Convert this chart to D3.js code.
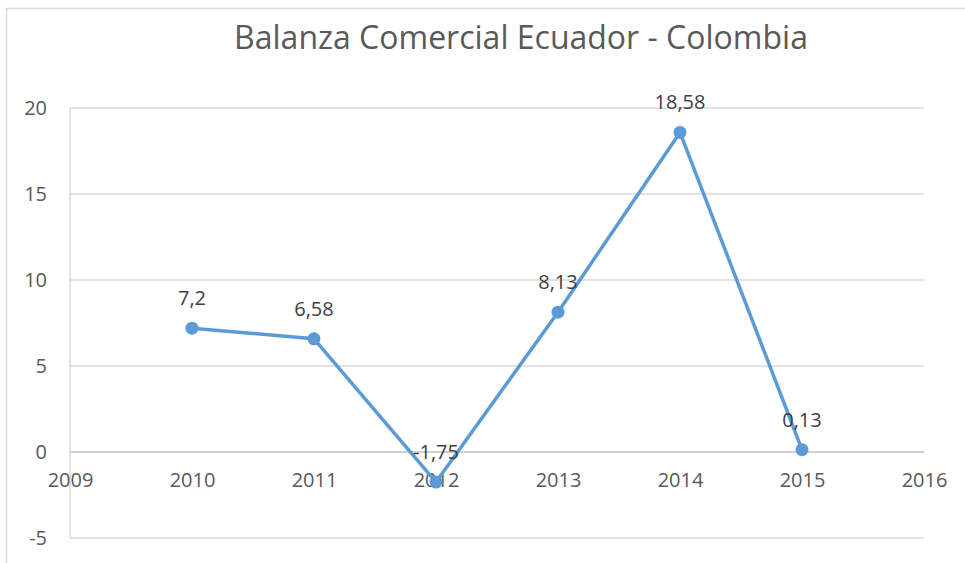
<!DOCTYPE html>
<html>
<head>
<meta charset="utf-8">
<script src="https://cdn.jsdelivr.net/npm/d3@7"></script>
<style>
  body { margin: 0; background: #fff; }
  svg { display: block; font-family: "Open Sans", "Noto Sans", sans-serif; }
</style>
</head>
<body>
<div id="chart"></div>
<script>
// data
const years = [2010, 2011, 2012, 2013, 2014, 2015];
const values = [7.2, 6.58, -1.75, 8.13, 18.58, 0.13];
const labels = ['7,2', '6,58', '-1,75', '8,13', '18,58', '0,13'];
const xTicks = [2009, 2010, 2011, 2012, 2013, 2014, 2015, 2016];
const yTicks = [-5, 0, 5, 10, 15, 20];

const fullWidth = 965;
const fullHeight = 563;
const margin = { top: 108, right: 41, bottom: 25, left: 70 };
const width = fullWidth - margin.left - margin.right;
const height = fullHeight - margin.top - margin.bottom;

const svg = d3.select('#chart').append('svg')
  .attr('width', fullWidth)
  .attr('height', fullHeight);

// chart frame
svg.append('rect')
  .attr('x', 6.5).attr('y', 8.5)
  .attr('width', 1000).attr('height', 1000)
  .attr('fill', 'none')
  .attr('stroke', '#d9d9d9')
  .attr('stroke-width', 1.5);

svg.append('text')
  .attr('x', 521)
  .attr('y', 49)
  .attr('text-anchor', 'middle')
  .attr('fill', '#595959')
  .style('font-size', '32px')
  .text('Balanza Comercial Ecuador - Colombia');

const g = svg.append('g')
  .attr('transform', `translate(${margin.left},${margin.top})`);

const x = d3.scaleLinear().domain([2009, 2016]).range([0, width]);
const y = d3.scaleLinear().domain([-5, 20]).range([height, 0]);

// gridlines
g.selectAll('.grid').data(yTicks).enter().append('line')
  .attr('class', 'grid')
  .attr('x1', 0).attr('x2', width)
  .attr('y1', d => y(d)).attr('y2', d => y(d))
  .attr('stroke', d => d === 0 ? '#bfbfbf' : '#d9d9d9')
  .attr('stroke-width', 1.5);

// y axis line
g.append('line')
  .attr('x1', 0).attr('x2', 0)
  .attr('y1', y(20)).attr('y2', y(-5))
  .attr('stroke', '#d9d9d9')
  .attr('stroke-width', 1.5);

// y labels
const yAxis = g.append('g')
  .call(d3.axisLeft(y).tickValues(yTicks).tickFormat(d => String(d))
    .tickSize(0).tickPadding(23));
yAxis.select('.domain').remove();
yAxis.selectAll('text')
  .attr('fill', '#595959')
  .style('font-size', '20px')
  .style('font-family', '"Open Sans", sans-serif');

// x labels along the zero line
const xAxis = g.append('g')
  .attr('transform', `translate(0,${y(0)})`)
  .call(d3.axisBottom(x).tickValues(xTicks).tickFormat(d3.format('d'))
    .tickSize(0).tickPadding(21));
xAxis.select('.domain').remove();
xAxis.selectAll('text')
  .attr('fill', '#595959')
  .style('font-size', '20px')
  .style('font-family', '"Open Sans", sans-serif');

const pts = years.map((yr, i) => ({ yr, v: values[i], label: labels[i] }));

g.append('path')
  .datum(pts)
  .attr('fill', 'none')
  .attr('stroke', '#5b9bd5')
  .attr('stroke-width', 3.5)
  .attr('stroke-linejoin', 'round')
  .attr('d', d3.line().x(d => x(d.yr)).y(d => y(d.v)));

g.selectAll('.pt').data(pts).enter().append('circle')
  .attr('class', 'pt')
  .attr('cx', d => x(d.yr))
  .attr('cy', d => y(d.v))
  .attr('r', 6.5)
  .attr('fill', '#5b9bd5');

g.selectAll('.lbl').data(pts).enter().append('text')
  .attr('class', 'lbl')
  .attr('x', d => x(d.yr))
  .attr('y', d => y(d.v) - 23)
  .attr('text-anchor', 'middle')
  .attr('fill', '#404040')
  .style('font-size', '20px')
  .text(d => d.label);
</script>
</body>
</html>
